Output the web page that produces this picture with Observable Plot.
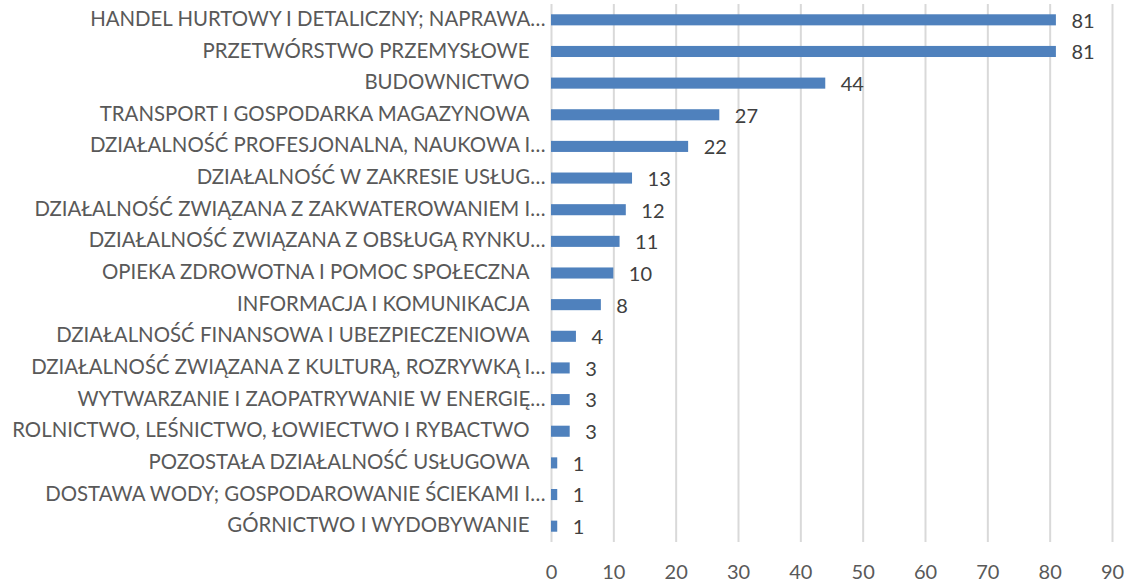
<!DOCTYPE html>
<html>
<head>
<meta charset="utf-8">
<script src="https://cdn.jsdelivr.net/npm/d3@7"></script>
<script src="https://cdn.jsdelivr.net/npm/@observablehq/plot@0.6"></script>
<style>
  html, body { margin: 0; padding: 0; background: #ffffff; }
  #chart svg { display: block; }
</style>
</head>
<body>
<div id="chart"></div>
<script>
const categories = [
  "HANDEL HURTOWY I DETALICZNY; NAPRAWA…",
  "PRZETWÓRSTWO PRZEMYSŁOWE",
  "BUDOWNICTWO",
  "TRANSPORT I GOSPODARKA MAGAZYNOWA",
  "DZIAŁALNOŚĆ PROFESJONALNA, NAUKOWA I…",
  "DZIAŁALNOŚĆ W ZAKRESIE USŁUG…",
  "DZIAŁALNOŚĆ ZWIĄZANA Z ZAKWATEROWANIEM I…",
  "DZIAŁALNOŚĆ ZWIĄZANA Z OBSŁUGĄ RYNKU…",
  "OPIEKA ZDROWOTNA I POMOC SPOŁECZNA",
  "INFORMACJA I KOMUNIKACJA",
  "DZIAŁALNOŚĆ FINANSOWA I UBEZPIECZENIOWA",
  "DZIAŁALNOŚĆ ZWIĄZANA Z KULTURĄ, ROZRYWKĄ I…",
  "WYTWARZANIE I ZAOPATRYWANIE W ENERGIĘ…",
  "ROLNICTWO, LEŚNICTWO, ŁOWIECTWO I RYBACTWO",
  "POZOSTAŁA DZIAŁALNOŚĆ USŁUGOWA",
  "DOSTAWA WODY; GOSPODAROWANIE ŚCIEKAMI I…",
  "GÓRNICTWO I WYDOBYWANIE"
];
const values = [81, 81, 44, 27, 22, 13, 12, 11, 10, 8, 4, 3, 3, 3, 1, 1, 1];
const xTicks = [0, 10, 20, 30, 40, 50, 60, 70, 80, 90];

const data = categories.map((c, i) => ({category: c, value: values[i]}));
const truncated = data.filter(d => d.category.endsWith("…"));
const full = data.filter(d => !d.category.endsWith("…"));

const font = "Lato, 'Open Sans', sans-serif";

const chart = Plot.plot({
  width: 1126,
  height: 585,
  marginLeft: 551,
  marginRight: 14,
  marginTop: 4,
  marginBottom: 43,
  style: {fontFamily: font, background: "#ffffff"},
  x: {domain: [0, 90], ticks: xTicks},
  y: {domain: categories, paddingInner: 0.65, paddingOuter: 0.325, round: false, axis: null},
  marks: [
    Plot.gridX(xTicks, {stroke: "#d9d9d9", strokeWidth: 2, strokeOpacity: 1}),
    Plot.barX(data, {x: "value", y: "category", fill: "#4f81bd", inset: 0}),
    Plot.text(data, {x: "value", y: "category", text: d => String(d.value), textAnchor: "start", dx: 15, dy: 1, fontSize: 20, fill: "#404040"}),
    Plot.text(truncated, {x: () => 0, y: "category", text: "category", textAnchor: "end", dx: -6, dy: -1, fontSize: 20.4, fill: "#595959"}),
    Plot.text(full, {x: () => 0, y: "category", text: "category", textAnchor: "end", dx: -22, dy: -1, fontSize: 20.4, fill: "#595959"}),
    Plot.axisX(xTicks, {tickSize: 0, tickPadding: 22, fontSize: 20, color: "#595959", label: null})
  ]
});
document.getElementById("chart").appendChild(chart);
</script>
</body>
</html>
